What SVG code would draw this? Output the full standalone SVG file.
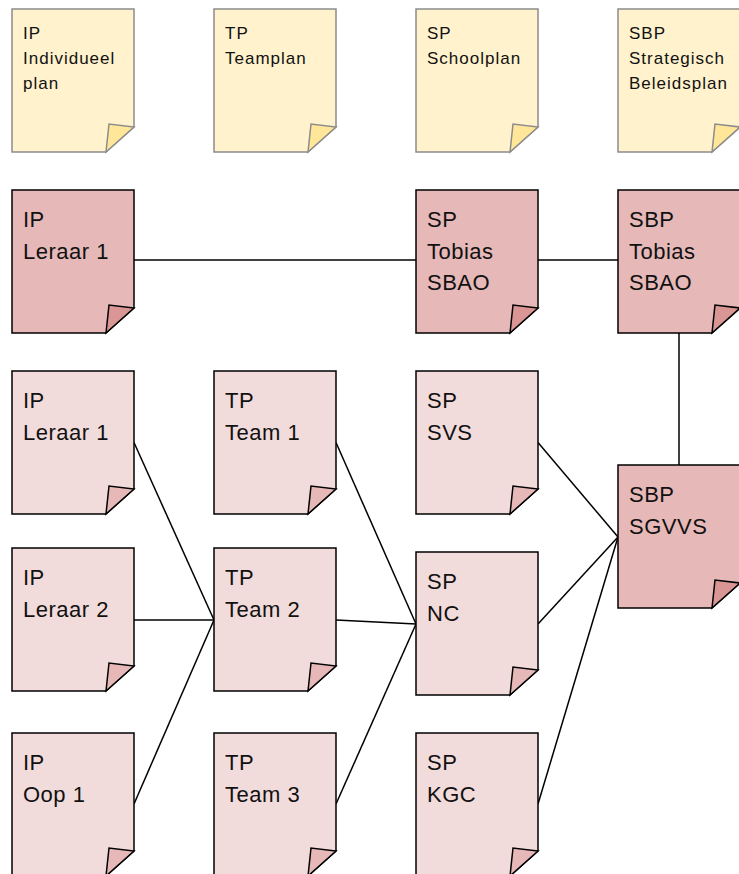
<svg xmlns="http://www.w3.org/2000/svg" width="739" height="874" viewBox="0 0 739 874">
<defs>
<style>
.body{stroke:#000;stroke-width:1.5;stroke-linejoin:miter}
.fold{stroke:#000;stroke-width:1.5;stroke-linejoin:miter}
.legend .body{fill:#FFF2CC;stroke:#8C8C8C}
.legend .fold{fill:#FFE699;stroke:#8C8C8C}
.dark .body{fill:#E6B9B8}
.dark .fold{fill:#D99694}
.light .body{fill:#F2DCDB}
.light .fold{fill:#E6B9B8}
text{font-family:"Liberation Sans",Arial,sans-serif;fill:#111}
.s{font-size:17px;letter-spacing:1px}
.b{font-size:22px;letter-spacing:0.5px}
#connectors path{fill:none;stroke:#000;stroke-width:1.5}
</style>
<path id="doc" d="M0,0H122V118L94,143H0Z"/>
<path id="flap" d="M94,143L97,115L122,118Z"/>
</defs>
<rect width="739" height="874" fill="#fff"/>
<g id="connectors">
<path d="M134,260H416"/>
<path d="M538,260H618"/>
<path d="M679,333V465"/>
<path d="M134,442.5L214,620"/>
<path d="M134,620H214"/>
<path d="M134,804L214,620"/>
<path d="M336,442.5L416,624"/>
<path d="M336,620L416,624"/>
<path d="M336,804L416,624"/>
<path d="M538,442.5L618,537"/>
<path d="M538,624L618,537"/>
<path d="M538,804L618,537"/>
</g>
<g id="legend-ip" class="legend" transform="translate(12,9)"><use href="#doc" class="body"/><use href="#flap" class="fold"/><text class="s" x="11" y="30">IP</text><text class="s" x="11" y="55">Individueel</text><text class="s" x="11" y="80">plan</text></g>
<g id="legend-tp" class="legend" transform="translate(214,9)"><use href="#doc" class="body"/><use href="#flap" class="fold"/><text class="s" x="11" y="30">TP</text><text class="s" x="11" y="55">Teamplan</text></g>
<g id="legend-sp" class="legend" transform="translate(416,9)"><use href="#doc" class="body"/><use href="#flap" class="fold"/><text class="s" x="11" y="30">SP</text><text class="s" x="11" y="55">Schoolplan</text></g>
<g id="legend-sbp" class="legend" transform="translate(618,9)"><use href="#doc" class="body"/><use href="#flap" class="fold"/><text class="s" x="11" y="30">SBP</text><text class="s" x="11" y="55">Strategisch</text><text class="s" x="11" y="80">Beleidsplan</text></g>
<g id="ip-leraar1-tobias" class="dark" transform="translate(12,190)"><use href="#doc" class="body"/><use href="#flap" class="fold"/><text class="b" x="11" y="37">IP</text><text class="b" x="11" y="69">Leraar 1</text></g>
<g id="sp-tobias" class="dark" transform="translate(416,190)"><use href="#doc" class="body"/><use href="#flap" class="fold"/><text class="b" x="11" y="37">SP</text><text class="b" x="11" y="69">Tobias</text><text class="b" x="11" y="100">SBAO</text></g>
<g id="sbp-tobias" class="dark" transform="translate(618,190)"><use href="#doc" class="body"/><use href="#flap" class="fold"/><text class="b" x="11" y="37">SBP</text><text class="b" x="11" y="69">Tobias</text><text class="b" x="11" y="100">SBAO</text></g>
<g id="sbp-sgvvs" class="dark" transform="translate(618,465)"><use href="#doc" class="body"/><use href="#flap" class="fold"/><text class="b" x="11" y="37">SBP</text><text class="b" x="11" y="69">SGVVS</text></g>
<g id="ip-leraar1" class="light" transform="translate(12,371)"><use href="#doc" class="body"/><use href="#flap" class="fold"/><text class="b" x="11" y="37">IP</text><text class="b" x="11" y="69">Leraar 1</text></g>
<g id="tp-team1" class="light" transform="translate(214,371)"><use href="#doc" class="body"/><use href="#flap" class="fold"/><text class="b" x="11" y="37">TP</text><text class="b" x="11" y="69">Team 1</text></g>
<g id="sp-svs" class="light" transform="translate(416,371)"><use href="#doc" class="body"/><use href="#flap" class="fold"/><text class="b" x="11" y="37">SP</text><text class="b" x="11" y="69">SVS</text></g>
<g id="ip-leraar2" class="light" transform="translate(12,548)"><use href="#doc" class="body"/><use href="#flap" class="fold"/><text class="b" x="11" y="37">IP</text><text class="b" x="11" y="69">Leraar 2</text></g>
<g id="tp-team2" class="light" transform="translate(214,548)"><use href="#doc" class="body"/><use href="#flap" class="fold"/><text class="b" x="11" y="37">TP</text><text class="b" x="11" y="69">Team 2</text></g>
<g id="sp-nc" class="light" transform="translate(416,552)"><use href="#doc" class="body"/><use href="#flap" class="fold"/><text class="b" x="11" y="37">SP</text><text class="b" x="11" y="69">NC</text></g>
<g id="ip-oop1" class="light" transform="translate(12,733)"><use href="#doc" class="body"/><use href="#flap" class="fold"/><text class="b" x="11" y="37">IP</text><text class="b" x="11" y="69">Oop 1</text></g>
<g id="tp-team3" class="light" transform="translate(214,733)"><use href="#doc" class="body"/><use href="#flap" class="fold"/><text class="b" x="11" y="37">TP</text><text class="b" x="11" y="69">Team 3</text></g>
<g id="sp-kgc" class="light" transform="translate(416,733)"><use href="#doc" class="body"/><use href="#flap" class="fold"/><text class="b" x="11" y="37">SP</text><text class="b" x="11" y="69">KGC</text></g>
</svg>
